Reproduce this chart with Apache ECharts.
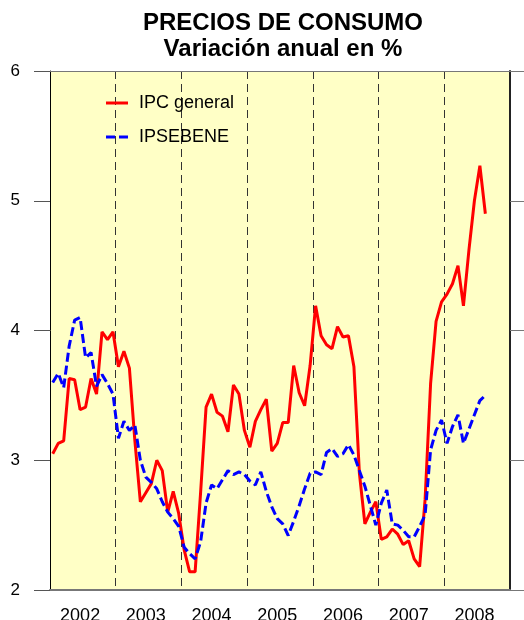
<!DOCTYPE html>
<html>
<head>
<meta charset="utf-8">
<script src="https://cdn.jsdelivr.net/npm/echarts@6/dist/echarts.min.js"></script>
<style>
  html, body { margin: 0; padding: 0; background: #fff; }
  #chart1 { width: 524px; height: 620px; }
</style>
</head>
<body>
<div id="chart1"></div>
<script>
// years on the x axis, one category per month
var years = ['2002', '2003', '2004', '2005', '2006', '2007', '2008'];
var yTicks = [2, 3, 4, 5, 6];

// IPC general, variacion anual % (ene 2002 - ago 2008)
var ipcGeneral = [
    3.05, 3.13, 3.15, 3.63, 3.62, 3.39, 3.41, 3.63, 3.51, 3.99, 3.93, 3.99,
    3.72, 3.84, 3.71, 3.15, 2.68, 2.75, 2.82, 3.00, 2.92, 2.60, 2.76, 2.59,
    2.31, 2.14, 2.14, 2.75, 3.41, 3.51, 3.37, 3.34, 3.22, 3.58, 3.51, 3.23,
    3.10, 3.30, 3.39, 3.47, 3.07, 3.13, 3.29, 3.29, 3.73, 3.52, 3.42, 3.73,
    4.19, 3.96, 3.89, 3.86, 4.03, 3.95, 3.96, 3.72, 2.90, 2.51, 2.60, 2.68,
    2.39, 2.41, 2.47, 2.43, 2.35, 2.38, 2.24, 2.18, 2.70, 3.59, 4.07, 4.22,
    4.28, 4.36, 4.50, 4.19, 4.62, 5.00, 5.27, 4.90
];
// IPSEBENE (subyacente)
var ipsebene = [
    3.60, 3.67, 3.56, 3.88, 4.08, 4.10, 3.79, 3.83, 3.57, 3.66, 3.59, 3.51,
    3.17, 3.30, 3.23, 3.27, 3.00, 2.87, 2.83, 2.78, 2.68, 2.60, 2.55, 2.49,
    2.33, 2.28, 2.24, 2.37, 2.67, 2.81, 2.78, 2.85, 2.92, 2.89, 2.91, 2.89,
    2.84, 2.81, 2.91, 2.76, 2.64, 2.55, 2.51, 2.42, 2.53, 2.65, 2.78, 2.90,
    2.91, 2.89, 3.06, 3.09, 3.03, 3.05, 3.12, 3.04, 2.92, 2.80, 2.65, 2.50,
    2.67, 2.77, 2.51, 2.50, 2.46, 2.41, 2.41, 2.49, 2.58, 3.08, 3.23, 3.31,
    3.13, 3.26, 3.35, 3.13, 3.24, 3.35, 3.46, 3.50
];

var months = [];
for (var y = 0; y < years.length; y++) {
    for (var m = 1; m <= 12; m++) {
        months.push(years[y] + '-' + ('0' + m).slice(-2));
    }
}

var myChart = echarts.init(document.getElementById('chart1'));

var option = {
    animation: false,
    backgroundColor: '#ffffff',
    title: {
        text: 'PRECIOS DE CONSUMO\nVariación anual en %',
        left: 278,
        top: 5,
        textAlign: 'center',
        textStyle: {
            fontFamily: 'Liberation Sans',
            fontSize: 24,
            fontWeight: 'bold',
            lineHeight: 26,
            color: '#000'
        }
    },
    legend: {
        orient: 'vertical',
        left: 101,
        top: 88,
        itemWidth: 22,
        itemHeight: 3,
        itemGap: 14,
        textStyle: {
            fontFamily: 'Liberation Sans',
            fontSize: 18,
            lineHeight: 20,
            color: '#000',
            padding: [0, 0, 0, 6]
        },
        data: [
            { name: 'IPC general', icon: 'rect' },
            { name: 'IPSEBENE', icon: 'path://M0,0h9v3h-9z M13,0h9v3h-9z' }
        ]
    },
    grid: {
        left: 50,
        right: 14,
        top: 71,
        bottom: 30,
        outerBoundsMode: 'none',
        containLabel: false,
        show: true,
        backgroundColor: '#ffffc6',
        borderWidth: 0
    },
    xAxis: [
        {
            type: 'category',
            data: months,
            boundaryGap: true,
            position: 'bottom',
            axisLine: { lineStyle: { color: '#777', width: 2 } },
            axisTick: { show: false },
            axisLabel: {
                interval: function (i) { return i % 12 === 5; },
                formatter: function (v) { return v.slice(0, 4); },
                fontFamily: 'Liberation Sans',
                fontSize: 18,
                color: '#000',
                margin: 17
            },
            splitLine: {
                show: true,
                interval: function (i) { return i % 12 === 0 && i > 0; },
                lineStyle: { color: '#333', width: 1, type: [8, 5] }
            }
        },
        {
            type: 'category',
            data: months,
            boundaryGap: true,
            position: 'top',
            axisLine: { lineStyle: { color: '#777', width: 1 } },
            axisTick: { show: false },
            axisLabel: { show: false },
            splitLine: { show: false }
        }
    ],
    yAxis: [
        {
            type: 'value',
            min: 2,
            max: 6,
            interval: 1,
            axisLine: { show: true, lineStyle: { color: '#000', width: 1 } },
            axisTick: { show: true, inside: false, length: 16, lineStyle: { color: '#555' } },
            axisLabel: {
                fontFamily: 'Liberation Sans',
                fontSize: 17,
                color: '#000',
                margin: 30,
                formatter: function (v) { return yTicks.indexOf(v) >= 0 ? String(v) : ''; }
            },
            splitLine: { show: false }
        },
        {
            type: 'value',
            position: 'right',
            min: 2,
            max: 6,
            interval: 1,
            axisLine: { show: true, lineStyle: { color: '#222', width: 2 } },
            axisTick: { show: true, inside: false, length: 14, lineStyle: { color: '#777' } },
            axisLabel: { show: false },
            splitLine: { show: false }
        }
    ],
    series: [
        {
            name: 'IPC general',
            type: 'line',
            xAxisIndex: 0,
            yAxisIndex: 0,
            symbol: 'none',
            color: '#ff0000',
            lineStyle: { color: '#ff0000', width: 3 },
            data: ipcGeneral
        },
        {
            name: 'IPSEBENE',
            type: 'line',
            xAxisIndex: 0,
            yAxisIndex: 0,
            symbol: 'none',
            color: '#0000ff',
            lineStyle: { color: '#0000ff', width: 3, type: [9, 4] },
            data: ipsebene
        }
    ]
};

myChart.setOption(option);
</script>
</body>
</html>
